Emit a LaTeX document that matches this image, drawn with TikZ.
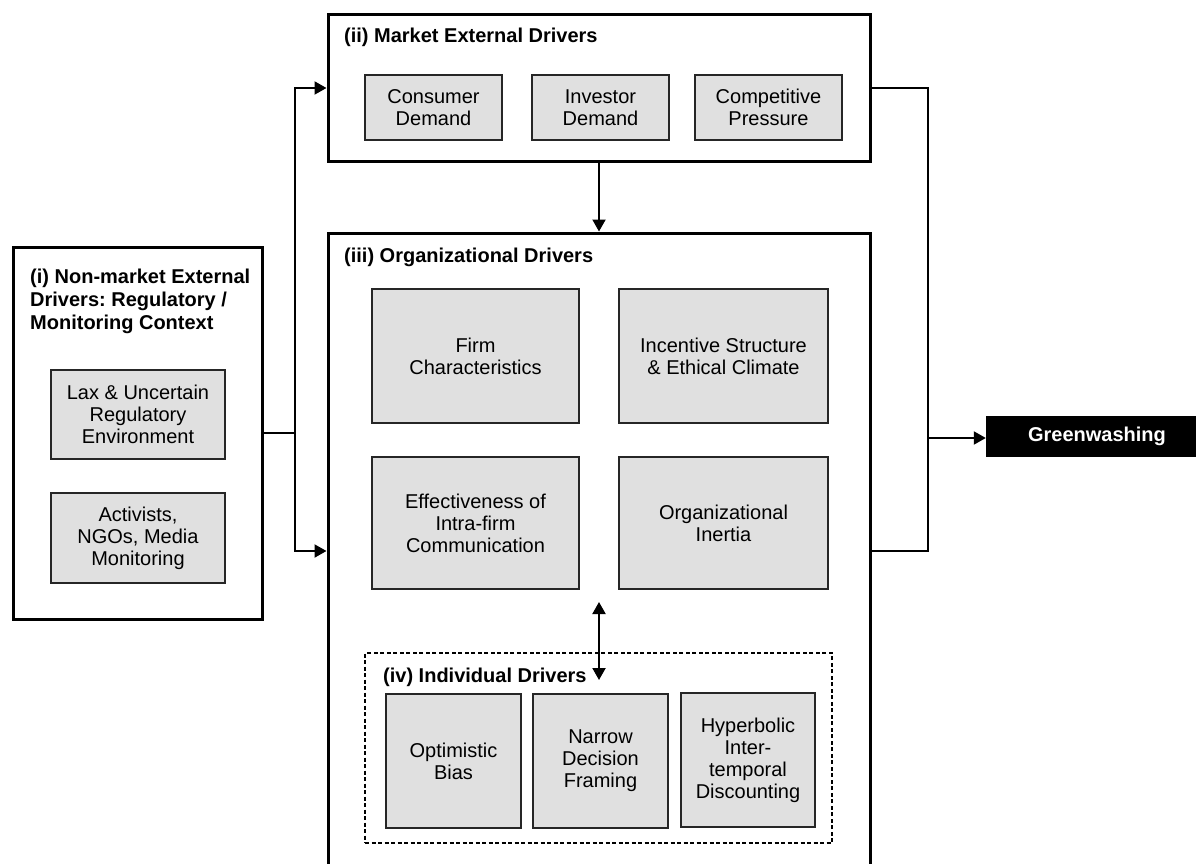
\documentclass[tikz,border=0pt]{standalone}
\usepackage{fontspec}
\setmainfont{Liberation Sans}
\usetikzlibrary{arrows.meta}
\definecolor{boxgray}{RGB}{224,224,224}
\tikzset{
  outerbox/.style={draw=black, line width=3pt, fill=white, inner sep=0pt},
  itembox/.style={draw=black!85, line width=1.5pt, fill=boxgray, inner sep=0pt, align=center,
     font=\fontsize{20}{22}\selectfont},
  headtext/.style={inner sep=0pt, font=\bfseries\fontsize{20}{23.3}\selectfont, align=left},
  conn/.style={line width=2pt},
  arr/.style={line width=2pt, -{Triangle[length=12pt,width=13pt]}},
  darr/.style={line width=2pt, {Triangle[length=12pt,width=13pt]}-{Triangle[length=12pt,width=13pt]}},
  gwbox/.style={fill=black, text=white, inner sep=0pt, font=\bfseries\fontsize{20}{22}\selectfont}
}
\begin{document}
\frenchspacing
\begin{tikzpicture}[x=1pt,y=-1pt]
\useasboundingbox (0,0) rectangle (1196,864);
\clip (0,0) rectangle (1196,864);
% outer boxes
\node[outerbox, minimum width=249pt, minimum height=372pt] (i) at (137.5,433) {};
\node[outerbox, minimum width=542pt, minimum height=146pt] (ii) at (599,88) {};
\node[outerbox, minimum width=542pt, minimum height=667pt] (iii) at (599,566.5) {};
% headings
\node[headtext, anchor=north west] (hi) at (30,268.4) {(i) Non-market External\\Drivers: Regulatory /\\Monitoring Context};
\node[headtext, anchor=base west] (hii) at (344,43) {(ii) Market External Drivers};
\node[headtext, anchor=base west] (hiii) at (344,262) {(iii) Organizational Drivers};
% (i) items
\node[itembox, minimum width=174pt, minimum height=89pt] (lax) at (138,414.5) {Lax \& Uncertain\\Regulatory\\Environment};
\node[itembox, minimum width=174pt, minimum height=90pt] (act) at (138,538) {Activists,\\NGOs, Media\\Monitoring};
% (ii) items
\node[itembox, minimum width=137pt, minimum height=65pt] (cons) at (433.5,107.5) {Consumer\\Demand};
\node[itembox, minimum width=137pt, minimum height=65pt] (inv) at (600.5,107.5) {Investor\\Demand};
\node[itembox, minimum width=147pt, minimum height=65pt] (comp) at (768.5,107.5) {Competitive\\Pressure};
% (iii) items
\node[itembox, minimum width=207pt, minimum height=134pt] (firm) at (475.5,356) {Firm\\Characteristics};
\node[itembox, minimum width=209pt, minimum height=134pt] (inc) at (723.5,356) {Incentive Structure\\\& Ethical Climate};
\node[itembox, minimum width=207pt, minimum height=132pt] (eff) at (475.5,523) {Effectiveness of\\Intra-firm\\Communication};
\node[itembox, minimum width=209pt, minimum height=132pt] (inert) at (723.5,523) {Organizational\\Inertia};
% (iv) dashed box
\node[draw=black, line width=1.2pt, dash pattern=on 4pt off 2.5pt, fill=white, inner sep=0pt,
      minimum width=467pt, minimum height=190pt] (iv) at (598.5,748) {};
\node[headtext, anchor=base west] (hiv) at (383,682) {(iv) Individual Drivers};
\node[itembox, minimum width=135pt, minimum height=134pt] (opt) at (453.5,761) {Optimistic\\Bias};
\node[itembox, minimum width=135pt, minimum height=134pt] (nar) at (600.5,761) {Narrow\\Decision\\Framing};
\node[itembox, minimum width=134pt, minimum height=134pt] (hyp) at (748,760) {Hyperbolic\\Inter-\\temporal\\Discounting};
% outcome
\node[gwbox, minimum width=222pt, minimum height=41pt] (gw) at (1097,436.5) {Greenwashing};
% connector coordinates
\coordinate (jl) at (295,433);
\coordinate (jr) at (928,88);
\coordinate (jrb) at (928,551);
\coordinate (jrm) at (928,438);
\coordinate (dtop) at (599,602);
\coordinate (dbot) at (599,680);
% connectors
\draw[conn] (i.east) -- (jl);
\draw[arr] (jl) |- (ii.west);
\draw[arr] (jl) |- (iii.west |- jrb);
\draw[arr] (ii.south) -- (iii.north);
\draw[conn] (ii.east) -- (jr) -- (jrb) -- (iii.east |- jrb);
\draw[arr] (jrm) -- (gw.west |- jrm);
\draw[darr] (dtop) -- (dbot);
\end{tikzpicture}
\end{document}
